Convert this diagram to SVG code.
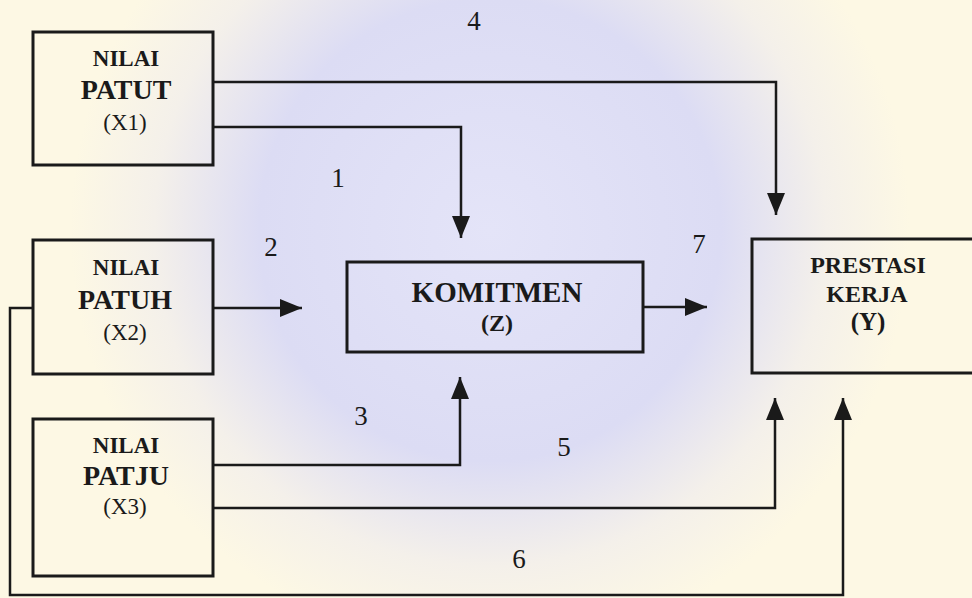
<svg xmlns="http://www.w3.org/2000/svg" width="972" height="598" viewBox="0 0 972 598">
  <defs>
    <radialGradient id="bg" cx="490" cy="230" r="420" gradientUnits="userSpaceOnUse">
      <stop offset="0" stop-color="#e4e4f8"/>
      <stop offset="0.55" stop-color="#dcdcf4"/>
      <stop offset="0.8" stop-color="#f4f0ea"/>
      <stop offset="1" stop-color="#fdf8e4"/>
    </radialGradient>
    <marker id="ah" markerUnits="userSpaceOnUse" markerWidth="22" markerHeight="18" refX="22" refY="9" orient="auto">
      <path d="M0,0 L22,9 L0,18 z" fill="#1a1a1a"/>
    </marker>
  </defs>
  <style>
    .box { fill: none; stroke: #1a1a1a; stroke-width: 3; }
    .conn { fill: none; stroke: #1a1a1a; stroke-width: 2.5; marker-end: url(#ah); }
    text { font-family: "Liberation Serif", "Times New Roman", serif; fill: #1a1a1a; text-anchor: middle; }
    .b { font-weight: bold; }
    .s { font-size: 23px; }
    .l { font-size: 28px; }
    .num { font-size: 27px; }
  </style>
  <rect x="0" y="0" width="972" height="598" fill="url(#bg)"/>

  <g id="X1">
    <rect class="box" x="33" y="32" width="180" height="133"/>
    <text class="b s" x="126" y="66">NILAI</text>
    <text class="b l" x="126" y="99">PATUT</text>
    <text class="s" x="125" y="130">(X1)</text>
  </g>
  <g id="X2">
    <rect class="box" x="33" y="240" width="180" height="134"/>
    <text class="b s" x="126" y="275">NILAI</text>
    <text class="b l" x="125" y="309">PATUH</text>
    <text class="s" x="125" y="340">(X2)</text>
  </g>
  <g id="X3">
    <rect class="box" x="33" y="419" width="180" height="157"/>
    <text class="b s" x="126" y="453">NILAI</text>
    <text class="b l" x="126" y="485">PATJU</text>
    <text class="s" x="125" y="514" font-size="22">(X3)</text>
  </g>
  <g id="Z">
    <rect class="box" x="347" y="262" width="296" height="90"/>
    <text class="b" x="497" y="302" font-size="29">KOMITMEN</text>
    <text class="b" x="497" y="331" font-size="24">(Z)</text>
  </g>
  <g id="Y">
    <rect class="box" x="752" y="239" width="230" height="134"/>
    <text class="b" x="868" y="273" font-size="24">PRESTASI</text>
    <text class="b" x="867" y="302" font-size="24">KERJA</text>
    <text class="b" x="868" y="330" font-size="25">(Y)</text>
  </g>

  <g id="connectors">
    <path class="conn" d="M213,127 H461 V238"/>
    <path class="conn" d="M213,308 H302"/>
    <path class="conn" d="M213,465 H460 V377"/>
    <path class="conn" d="M213,82 H776 V215"/>
    <path class="conn" d="M213,508 H775 V398"/>
    <path class="conn" d="M33,308 H10 V595 H843 V398"/>
    <path class="conn" d="M643,307 H707"/>
  </g>

  <g id="labels">
    <text class="num" x="474" y="30">4</text>
    <text class="num" x="338" y="187">1</text>
    <text class="num" x="271" y="256">2</text>
    <text class="num" x="699" y="253">7</text>
    <text class="num" x="361" y="425">3</text>
    <text class="num" x="564" y="456">5</text>
    <text class="num" x="519" y="568">6</text>
  </g>
</svg>
